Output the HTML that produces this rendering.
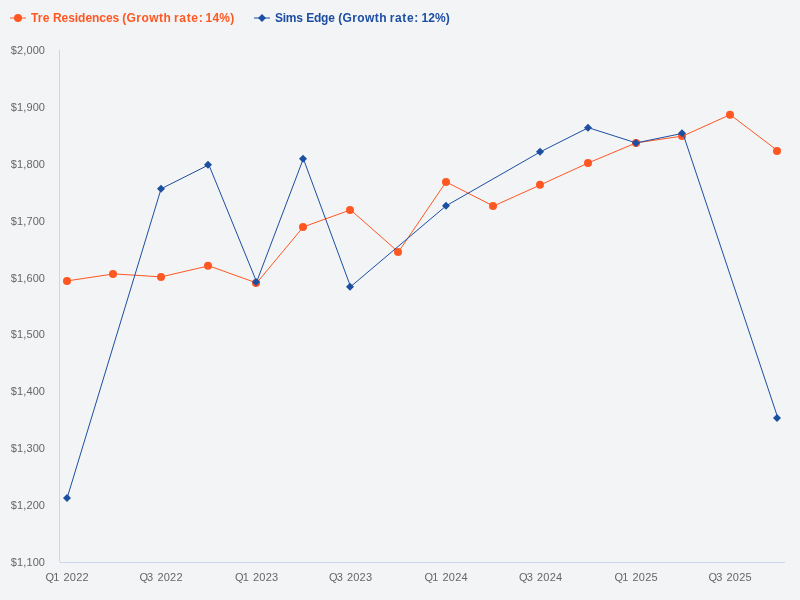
<!DOCTYPE html>
<html><head><meta charset="utf-8"><title>Chart</title>
<style>
html,body{margin:0;padding:0;background:#f3f4f6;}
svg{display:block}
text{font-family:"Liberation Sans",sans-serif;}
.ax{font-size:11px;fill:#666666;}
.lg{font-size:12px;font-weight:bold;}
</style></head><body>
<svg width="800" height="600" viewBox="0 0 800 600">
<rect x="0" y="0" width="800" height="600" fill="#f3f4f6"/>
<path d="M59.5 50V562" stroke="#ccd6eb" stroke-width="1" fill="none"/>
<path d="M60 562.5H785" stroke="#ccd6eb" stroke-width="1" fill="none"/>
<text class="ax" x="10.72" y="53.9" style="letter-spacing:0.125px">$2,000</text>
<text class="ax" x="10.72" y="110.8" style="letter-spacing:0.125px">$1,900</text>
<text class="ax" x="10.72" y="167.7" style="letter-spacing:0.125px">$1,800</text>
<text class="ax" x="10.72" y="224.6" style="letter-spacing:0.125px">$1,700</text>
<text class="ax" x="10.72" y="281.5" style="letter-spacing:0.125px">$1,600</text>
<text class="ax" x="10.72" y="338.3" style="letter-spacing:0.125px">$1,500</text>
<text class="ax" x="10.72" y="395.2" style="letter-spacing:0.125px">$1,400</text>
<text class="ax" x="10.72" y="452.1" style="letter-spacing:0.125px">$1,300</text>
<text class="ax" x="10.72" y="509.0" style="letter-spacing:0.125px">$1,200</text>
<text class="ax" x="10.72" y="565.9" style="letter-spacing:0.125px">$1,100</text>
<text class="ax" y="580.9"><tspan x="45.51" style="letter-spacing:-0.9px">Q1</tspan> <tspan x="63.51" style="letter-spacing:0.2px">2022</tspan></text>
<text class="ax" y="580.9"><tspan x="139.48" style="letter-spacing:-0.9px">Q3</tspan> <tspan x="157.48" style="letter-spacing:0.2px">2022</tspan></text>
<text class="ax" y="580.9"><tspan x="235.02" style="letter-spacing:-0.9px">Q1</tspan> <tspan x="253.02" style="letter-spacing:0.2px">2023</tspan></text>
<text class="ax" y="580.9"><tspan x="328.99" style="letter-spacing:-0.9px">Q3</tspan> <tspan x="346.99" style="letter-spacing:0.2px">2023</tspan></text>
<text class="ax" y="580.9"><tspan x="424.52" style="letter-spacing:-0.9px">Q1</tspan> <tspan x="442.52" style="letter-spacing:0.2px">2024</tspan></text>
<text class="ax" y="580.9"><tspan x="519.02" style="letter-spacing:-0.9px">Q3</tspan> <tspan x="537.02" style="letter-spacing:0.2px">2024</tspan></text>
<text class="ax" y="580.9"><tspan x="614.55" style="letter-spacing:-0.9px">Q1</tspan> <tspan x="632.55" style="letter-spacing:0.2px">2025</tspan></text>
<text class="ax" y="580.9"><tspan x="708.53" style="letter-spacing:-0.9px">Q3</tspan> <tspan x="726.53" style="letter-spacing:0.2px">2025</tspan></text>
<path d="M67.11 280.90 L113.84 273.90 L161.08 276.90 L208.85 265.80 L256.62 283.00 L303.34 226.90 L350.59 209.90 L398.36 252.00 L446.12 181.90 L493.37 206.10 L540.62 184.80 L588.38 162.90 L636.15 142.90 L682.88 136.00 L730.13 114.70 L777.89 150.90" stroke="#ff5722" stroke-width="1" fill="none" stroke-linejoin="round" stroke-linecap="round"/>
<circle cx="67" cy="280.90" r="4" fill="#ff5722"/>
<circle cx="113" cy="273.90" r="4" fill="#ff5722"/>
<circle cx="161" cy="276.90" r="4" fill="#ff5722"/>
<circle cx="208" cy="265.80" r="4" fill="#ff5722"/>
<circle cx="256" cy="283.00" r="4" fill="#ff5722"/>
<circle cx="303" cy="226.90" r="4" fill="#ff5722"/>
<circle cx="350" cy="209.90" r="4" fill="#ff5722"/>
<circle cx="398" cy="252.00" r="4" fill="#ff5722"/>
<circle cx="446" cy="181.90" r="4" fill="#ff5722"/>
<circle cx="493" cy="206.10" r="4" fill="#ff5722"/>
<circle cx="540" cy="184.80" r="4" fill="#ff5722"/>
<circle cx="588" cy="162.90" r="4" fill="#ff5722"/>
<circle cx="636" cy="142.90" r="4" fill="#ff5722"/>
<circle cx="682" cy="136.00" r="4" fill="#ff5722"/>
<circle cx="730" cy="114.70" r="4" fill="#ff5722"/>
<circle cx="777" cy="150.90" r="4" fill="#ff5722"/>
<path d="M67.11 498.10 L161.08 188.80 L208.85 164.80 L256.62 281.90 L303.34 158.70 L350.59 286.70 L446.12 205.80 L540.62 151.70 L588.38 127.70 L636.15 142.90 L682.88 133.30 L777.89 418.00" stroke="#1c4ea1" stroke-width="1" fill="none" stroke-linejoin="round" stroke-linecap="round"/>
<path d="M67.00 494.10L71.00 498.10L67.00 502.10L63.00 498.10Z" fill="#1c4ea1"/>
<path d="M161.00 184.80L165.00 188.80L161.00 192.80L157.00 188.80Z" fill="#1c4ea1"/>
<path d="M208.00 160.80L212.00 164.80L208.00 168.80L204.00 164.80Z" fill="#1c4ea1"/>
<path d="M256.00 277.90L260.00 281.90L256.00 285.90L252.00 281.90Z" fill="#1c4ea1"/>
<path d="M303.00 154.70L307.00 158.70L303.00 162.70L299.00 158.70Z" fill="#1c4ea1"/>
<path d="M350.00 282.70L354.00 286.70L350.00 290.70L346.00 286.70Z" fill="#1c4ea1"/>
<path d="M446.00 201.80L450.00 205.80L446.00 209.80L442.00 205.80Z" fill="#1c4ea1"/>
<path d="M540.00 147.70L544.00 151.70L540.00 155.70L536.00 151.70Z" fill="#1c4ea1"/>
<path d="M588.00 123.70L592.00 127.70L588.00 131.70L584.00 127.70Z" fill="#1c4ea1"/>
<path d="M636.00 138.90L640.00 142.90L636.00 146.90L632.00 142.90Z" fill="#1c4ea1"/>
<path d="M682.00 129.30L686.00 133.30L682.00 137.30L678.00 133.30Z" fill="#1c4ea1"/>
<path d="M777.00 414.00L781.00 418.00L777.00 422.00L773.00 418.00Z" fill="#1c4ea1"/>
<path d="M10 18H26" stroke="#ff5722" stroke-width="1"/><circle cx="18" cy="18" r="4" fill="#ff5722"/>
<text class="lg" y="21.9" fill="#ff5722"><tspan x="30.875" style="letter-spacing:0.25px">Tre</tspan> <tspan x="53.0" style="letter-spacing:-0.056px">Residences</tspan> <tspan x="122.125" style="letter-spacing:0.4375px">(Growth</tspan> <tspan x="174.0" style="letter-spacing:0.656px">rate:</tspan> <tspan x="205.5" style="letter-spacing:0.21px">14%)</tspan></text>
<path d="M254 18H270" stroke="#1c4ea1" stroke-width="1"/><path d="M262 14L266 18L262 22L258 18Z" fill="#1c4ea1"/>
<text class="lg" y="21.9" fill="#1c4ea1"><tspan x="274.875" style="letter-spacing:-0.25px">Sims</tspan> <tspan x="306.25" style="letter-spacing:-0.24px">Edge</tspan> <tspan x="338.175" style="letter-spacing:0.396px">(Growth</tspan> <tspan x="389.65" style="letter-spacing:0.64px">rate:</tspan> <tspan x="421.5" style="letter-spacing:0.108px">12%)</tspan></text>
</svg></body></html>
